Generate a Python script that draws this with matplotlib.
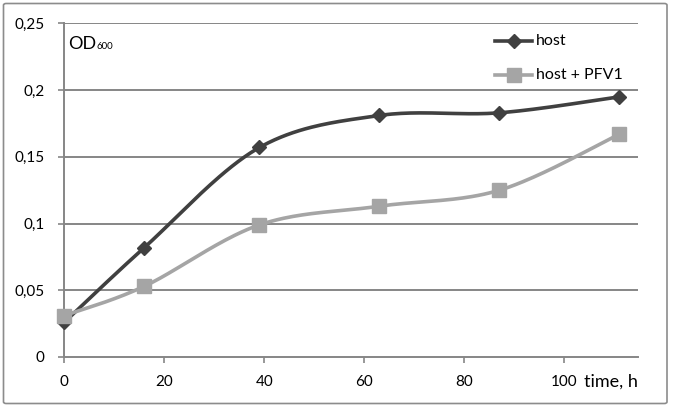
import numpy as np
import matplotlib
matplotlib.use('Agg')
import matplotlib.pyplot as plt
from matplotlib.patches import FancyBboxPatch
from matplotlib.lines import Line2D

# ---- data ----
time_h = [0, 16, 39, 63, 87, 111]
host = [0.026, 0.082, 0.157, 0.181, 0.183, 0.195]
host_pfv1 = [0.031, 0.053, 0.099, 0.113, 0.125, 0.167]
series_names = ['host', 'host + PFV1']
x_ticks = [0, 20, 40, 60, 80, 100]
y_ticks = [0, 0.05, 0.1, 0.15, 0.2, 0.25]
y_tick_labels = ['0', '0,05', '0,1', '0,15', '0,2', '0,25']
x_label = 'time, h'

plt.rcParams['font.family'] = ['Lato', 'DejaVu Sans']

W, H = 675, 407
fig = plt.figure(figsize=(W / 100, H / 100), dpi=100)
fig.patch.set_facecolor('white')


def px(x0, y0, x1, y1):
    return [x0 / W, 1 - y1 / H, (x1 - x0) / W, (y1 - y0) / H]


# chart border
fig.add_artist(FancyBboxPatch((3.5 / W, 1 - 403.5 / H), 663.5 / W, 400 / H,
                              boxstyle='round,pad=0,rounding_size=0.004',
                              transform=fig.transFigure, fill=False,
                              edgecolor='#8c8c8c', linewidth=1.2))

ax = fig.add_axes(px(64.3, 23.4, 638, 357))
ax.set_xlim(0, 114.7)
ax.set_ylim(0, 0.25)


def smooth(x, y, n=40):
    P = np.column_stack([x, y]).astype(float)
    out = [P[0]]
    for i in range(len(P) - 1):
        p0 = P[i - 1] if i > 0 else P[i]
        p1 = P[i]
        p2 = P[i + 1]
        p3 = P[i + 2] if i + 2 < len(P) else P[i + 1]
        b1 = p1 + (p2 - p0) / 6
        b2 = p2 - (p3 - p1) / 6
        t = np.linspace(0, 1, n)[1:, None]
        seg = (1 - t) ** 3 * p1 + 3 * (1 - t) ** 2 * t * b1 + 3 * (1 - t) * t ** 2 * b2 + t ** 3 * p2
        out.extend(seg)
    return np.array(out)


dark = '#404040'
light = '#a5a5a5'
grid_c = '#868686'

for yt in y_ticks[1:]:
    ax.axhline(yt, color=grid_c, lw=1.4, zorder=1)

c1 = smooth(time_h, host)
ax.plot(c1[:, 0], c1[:, 1], color=dark, lw=2.6, zorder=3, clip_on=False, solid_capstyle='round')
ax.plot(time_h, host, ls='none', marker='D', ms=7.5, color=dark, zorder=4, clip_on=False)
c2 = smooth(time_h, host_pfv1)
ax.plot(c2[:, 0], c2[:, 1], color=light, lw=2.6, zorder=5, clip_on=False, solid_capstyle='round')
ax.plot(time_h, host_pfv1, ls='none', marker='s', ms=9.5, color=light, zorder=6, clip_on=False)

for s in ['top', 'right']:
    ax.spines[s].set_visible(False)
for s in ['left', 'bottom']:
    ax.spines[s].set_color(grid_c)
    ax.spines[s].set_linewidth(1.4)

ax.set_xticks(x_ticks)
ax.set_xticklabels([str(v) for v in x_ticks])
ax.set_yticks(y_ticks)
ax.set_yticklabels(y_tick_labels)
ax.tick_params(axis='both', color=grid_c, width=1.2, length=4, labelsize=11, labelcolor='black')
ax.tick_params(axis='y', pad=10)
ax.tick_params(axis='x', pad=9)

fig.text(584 / W, 1 - 382 / H, x_label, fontsize=13, va='center', ha='left')

fig.text(68 / W, 1 - 49 / H, 'OD', fontsize=13, va='baseline', ha='left')
fig.text(96.5 / W, 1 - 49 / H, '600', fontsize=7, va='baseline', ha='left')

# legend
for i, (name, col, mk, ms) in enumerate([(series_names[0], dark, 'D', 7.5),
                                         (series_names[1], light, 's', 9.5)]):
    yy = 1 - (41 + 34 * i) / H
    fig.add_artist(Line2D([495 / W, 532 / W], [yy, yy], color=col, lw=2.6,
                          transform=fig.transFigure))
    fig.add_artist(Line2D([513.5 / W], [yy], color=col, marker=mk, ms=ms, ls='none',
                          transform=fig.transFigure))
    fig.text(536 / W, yy, name, fontsize=11.5, va='center', ha='left')

fig.savefig('out.png', dpi=100)
